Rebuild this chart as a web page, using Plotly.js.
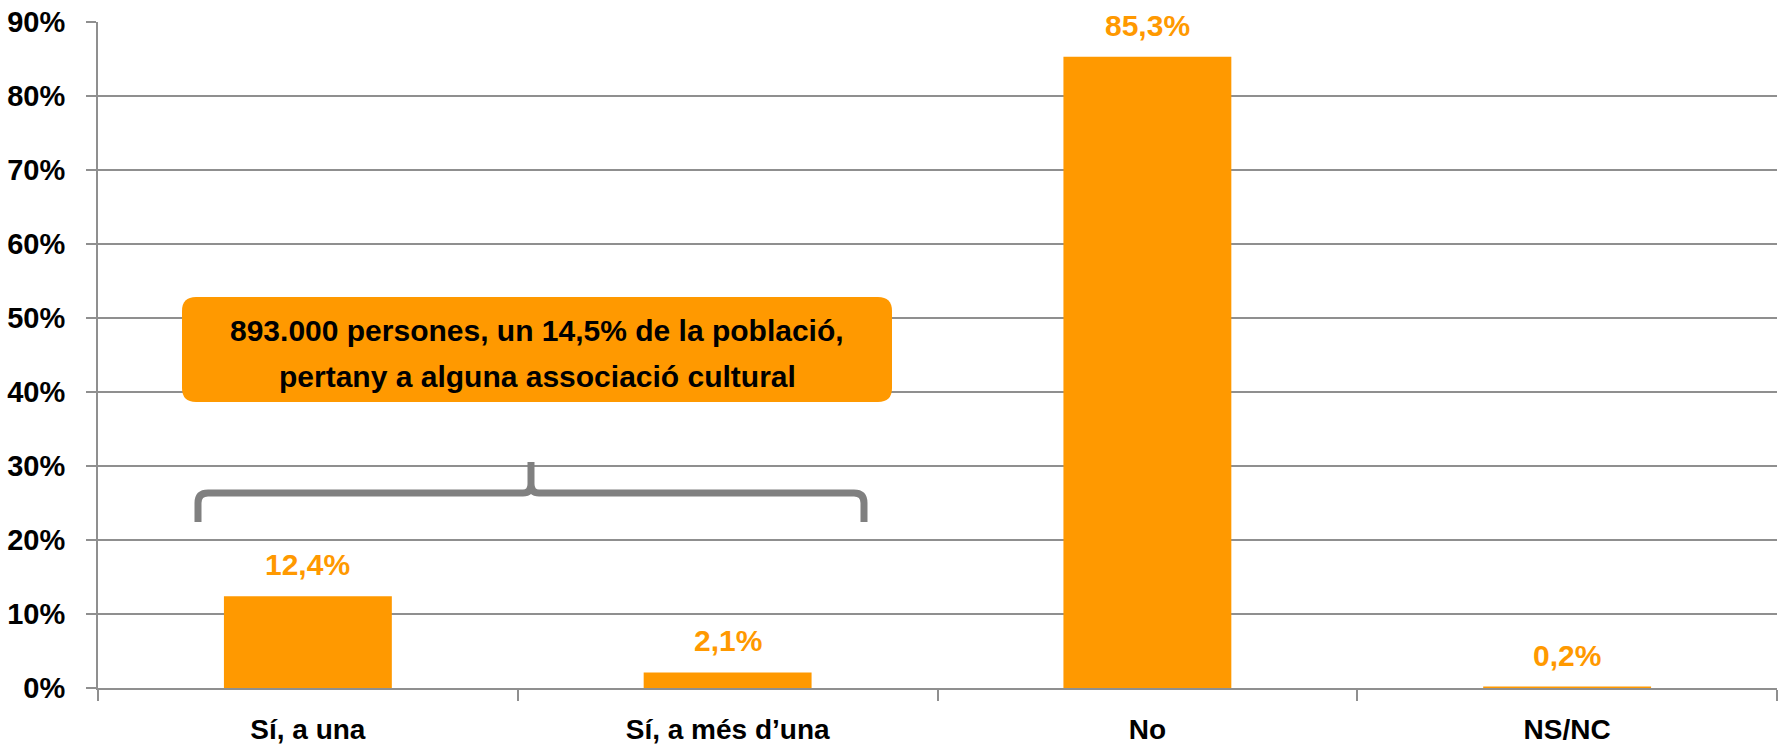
<!DOCTYPE html>
<html>
<head>
<meta charset="utf-8">
<script src="https://cdn.plot.ly/plotly-3.0.1.min.js"></script>
<style>
  html, body { margin: 0; padding: 0; background: #ffffff; }
  #chart { width: 1784px; height: 750px; }
</style>
</head>
<body>
<div id="chart"></div>
<script>
// ---- data ----
const categories = ["Sí, a una", "Sí, a més d’una", "No", "NS/NC"];
const values = [12.4, 2.1, 85.3, 0.2];
const yTickValues = [0, 10, 20, 30, 40, 50, 60, 70, 80, 90];
const calloutLines = ["893.000 persones, un 14,5% de la població,", "pertany a alguna associació cultural"];

// ---- layout geometry ----
const W = 1784, Hh = 750;
const M = { l: 98, r: 7, t: 22, b: 62 };
const PW = W - M.l - M.r, PH = Hh - M.t - M.b;
const px = x => (x - M.l) / PW;
const py = y => (M.t + PH - y) / PH;
const pt = (x, y) => px(x).toFixed(5) + "," + py(y).toFixed(5);

const ORANGE = "#FF9900";
const GRID = "#8f8f8f";
const FONT = "Liberation Sans, Arial, sans-serif";

const fmt = v => v.toFixed(1).replace(".", ",") + "%";

// rounded rectangle path (pixel box -> paper)
function roundRect(x0, y0, x1, y1, r) {
  return "M" + pt(x0 + r, y0) +
    " L" + pt(x1 - r, y0) + " Q" + pt(x1, y0) + " " + pt(x1, y0 + r) +
    " L" + pt(x1, y1 - r) + " Q" + pt(x1, y1) + " " + pt(x1 - r, y1) +
    " L" + pt(x0 + r, y1) + " Q" + pt(x0, y1) + " " + pt(x0, y1 - r) +
    " L" + pt(x0, y0 + r) + " Q" + pt(x0, y0) + " " + pt(x0 + r, y0) + " Z";
}

const boxX0 = 182, boxX1 = 892, boxY0 = 297, boxY1 = 402;
const braceL = 198, braceR = 864, braceMid = 531, braceY = 493, braceBot = 522, braceTop = 462;

const bracePath =
  "M" + pt(braceL, braceBot) + " L" + pt(braceL, braceY + 10) +
  " Q" + pt(braceL, braceY) + " " + pt(braceL + 10, braceY) +
  " L" + pt(braceMid - 8, braceY) +
  " Q" + pt(braceMid, braceY) + " " + pt(braceMid, braceY - 9) +
  " L" + pt(braceMid, braceTop) +
  " M" + pt(braceMid, braceY - 9) +
  " Q" + pt(braceMid, braceY) + " " + pt(braceMid + 8, braceY) +
  " L" + pt(braceR - 10, braceY) +
  " Q" + pt(braceR, braceY) + " " + pt(braceR, braceY + 10) +
  " L" + pt(braceR, braceBot);

const valueAnnotations = categories.map((c, i) => ({
  x: c, y: values[i], xref: "x", yref: "y",
  text: fmt(values[i]), showarrow: false,
  yanchor: "bottom", yshift: 14, borderpad: 0,
  font: { family: FONT, size: 30, color: ORANGE, weight: "bold" }
}));

const calloutY = [330, 376];
const calloutAnnotations = calloutLines.map((t, i) => ({
  x: px((boxX0 + boxX1) / 2), y: py(calloutY[i]), xref: "paper", yref: "paper",
  text: t, showarrow: false, xanchor: "center", yanchor: "middle",
  font: { family: FONT, size: 30, color: "#000000", weight: "bold" }
}));

const trace = {
  type: "bar",
  x: categories,
  y: values,
  marker: { color: ORANGE, line: { width: 0 } },
  hoverinfo: "skip"
};

const layout = {
  width: W, height: Hh,
  margin: M,
  paper_bgcolor: "#ffffff",
  plot_bgcolor: "#ffffff",
  showlegend: false,
  bargap: 0.6,
  font: { family: FONT, color: "#000000" },
  xaxis: {
    type: "category",
    showline: true, linecolor: GRID, linewidth: 2,
    ticks: "outside", tickson: "boundaries", ticklen: 11, tickcolor: GRID, tickwidth: 2,
    showgrid: false, zeroline: false,
    ticklabelstandoff: 15,
    tickfont: { family: FONT, size: 28, color: "#000000", weight: "bold" },
    fixedrange: true
  },
  yaxis: {
    range: [0, 90],
    tickvals: yTickValues,
    ticktext: yTickValues.map(v => v + "%"),
    showline: true, linecolor: GRID, linewidth: 2,
    ticks: "outside", ticklen: 10, tickcolor: GRID, tickwidth: 2,
    showgrid: true, gridcolor: GRID, gridwidth: 2,
    zeroline: false,
    ticklabelstandoff: 15,
    tickfont: { family: FONT, size: 29, color: "#000000", weight: "bold" },
    fixedrange: true
  },
  shapes: [
    { type: "path", xref: "paper", yref: "paper", path: roundRect(boxX0, boxY0, boxX1, boxY1, 14),
      fillcolor: ORANGE, line: { width: 0 }, layer: "above" },
    { type: "path", xref: "paper", yref: "paper", path: bracePath,
      fillcolor: "rgba(0,0,0,0)", line: { color: "#808080", width: 7 }, layer: "above" }
  ],
  annotations: valueAnnotations.concat(calloutAnnotations)
};

Plotly.newPlot("chart", [trace], layout, { displayModeBar: false, staticPlot: true });
</script>
</body>
</html>
